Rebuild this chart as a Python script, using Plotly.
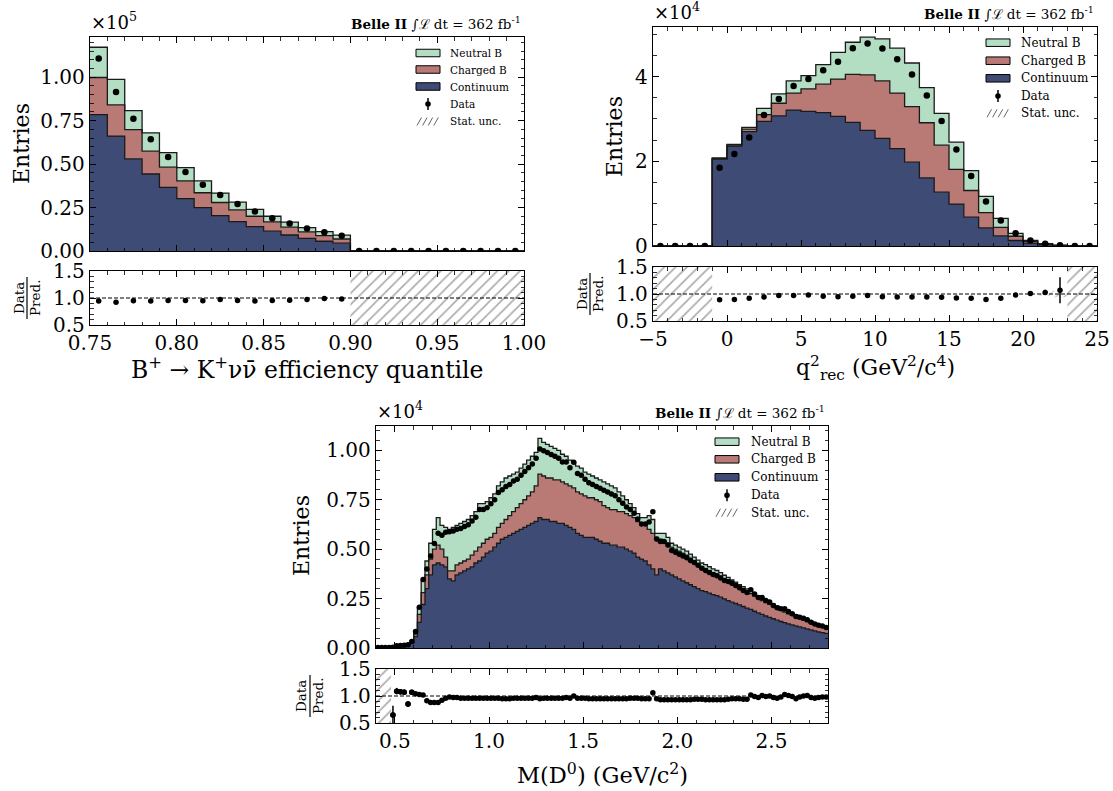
import numpy as np
import plotly.graph_objects as go

W, H = 1113, 791
FONT = "DejaVu Serif"
C_NEU = "#b3dec4"
C_CHG = "#b97a76"
C_CON = "#3e4b74"

# ---------------- Panel 1 : B+ -> K+ nu nubar efficiency quantile (x 1e5 entries)
p1_lo, p1_bw = 0.75, 0.01
p1_continuum = [0.784, 0.661, 0.530, 0.443, 0.366, 0.301, 0.250, 0.204, 0.169, 0.140,
                0.114, 0.092, 0.073, 0.056, 0.045, 0, 0, 0, 0, 0, 0, 0, 0, 0, 0]
p1_charged = [0.214, 0.179, 0.168, 0.131, 0.116, 0.102, 0.085, 0.075, 0.068, 0.060,
              0.054, 0.045, 0.037, 0.032, 0.024, 0, 0, 0, 0, 0, 0, 0, 0, 0, 0]
p1_neutral = [0.174, 0.147, 0.109, 0.106, 0.084, 0.077, 0.068, 0.054, 0.044, 0.039,
              0.032, 0.029, 0.025, 0.024, 0.022, 0, 0, 0, 0, 0, 0, 0, 0, 0, 0]
p1_data = [1.108, 0.915, 0.761, 0.643, 0.541, 0.455, 0.381, 0.322, 0.270, 0.227,
           0.189, 0.158, 0.129, 0.108, 0.088, 0, 0, 0, 0, 0, 0, 0, 0, 0, 0]
p1_ratio = [0.945, 0.92, 0.95, 0.945, 0.955, 0.955, 0.95, 0.97, 0.955, 0.945,
            0.955, 0.96, 0.97, 0.99, 0.98]
p1_ratio_err = [0.005, 0.006, 0.006, 0.007, 0.007, 0.008, 0.008, 0.009, 0.01, 0.01,
                0.011, 0.012, 0.013, 0.015, 0.016]

# ---------------- Panel 2 : q2_rec (x 1e4 entries)
p2_lo, p2_bw = -5.0, 1.0
p2_continuum = [0, 0, 0, 0, 2.05, 2.36, 2.70, 2.94, 3.07, 3.21, 3.18, 3.15, 3.06, 2.92, 2.73,
                2.54, 2.30, 1.98, 1.61, 1.27, 0.99, 0.68, 0.43, 0.24, 0.13, 0.07, 0.03, 0.01, 0, 0]
p2_charged = [0, 0, 0, 0, 0.01, 0.02, 0.06, 0.16, 0.30, 0.40, 0.53, 0.67, 0.88, 1.13, 1.31,
              1.36, 1.31, 1.31, 1.30, 1.11, 0.82, 0.63, 0.36, 0.20, 0.10, 0.04, 0.015, 0.005, 0, 0]
p2_neutral = [0, 0, 0, 0, 0.02, 0.02, 0.04, 0.15, 0.22, 0.29, 0.31, 0.46, 0.63, 0.76, 0.89,
              0.99, 1.06, 1.03, 0.83, 0.75, 0.64, 0.47, 0.38, 0.21, 0.07, 0.02, 0.01, 0.003, 0, 0]
p2_data = [0, 0, 0, 0, 1.85, 2.17, 2.56, 3.09, 3.47, 3.78, 3.94, 4.15, 4.35, 4.67, 4.78,
           4.66, 4.41, 4.05, 3.55, 2.95, 2.28, 1.65, 1.05, 0.60, 0.30, 0.13, 0.056, 0.019, 0, 0]
p2_ratio = [0.894, 0.90, 0.92, 0.944, 0.97, 0.97, 0.98, 0.96, 0.95, 0.96, 0.97, 0.95,
            0.944, 0.944, 0.944, 0.94, 0.925, 0.92, 0.90, 0.92, 0.98, 1.01, 1.03, 1.07]
p2_ratio_err = [0.01, 0.01, 0.01, 0.01, 0.01, 0.01, 0.01, 0.01, 0.01, 0.01, 0.01, 0.01,
                0.01, 0.01, 0.01, 0.01, 0.01, 0.01, 0.012, 0.015, 0.02, 0.03, 0.05, 0.24]
p2_unc_x = [21.5, 22.5]
p2_unc_rel = [0.03, 0.06]

# ---------------- Panel 3 : M(D0) (x 1e4 entries)
p3_lo, p3_bw = 0.40, 0.02
p3_continuum = [
    0, 0, 0, 0, 0.004, 0.008, 0.010, 0.012, 0.015, 0.024,
    0.058, 0.13, 0.22, 0.30, 0.37, 0.42, 0.43, 0.42, 0.41, 0.35,
    0.34, 0.37, 0.38, 0.39, 0.40, 0.41, 0.43, 0.44, 0.46, 0.48,
    0.49, 0.51, 0.53, 0.55, 0.56, 0.57, 0.58, 0.59, 0.60, 0.61,
    0.62, 0.63, 0.64, 0.66, 0.65, 0.65, 0.64, 0.64, 0.63, 0.63,
    0.62, 0.61, 0.60, 0.58, 0.57, 0.56, 0.56, 0.56, 0.55, 0.54,
    0.53, 0.53, 0.52, 0.52, 0.51, 0.51, 0.50, 0.49, 0.48, 0.46,
    0.45, 0.44, 0.42, 0.40, 0.37, 0.40, 0.39, 0.38, 0.37, 0.36,
    0.35, 0.34, 0.33, 0.32, 0.31, 0.30, 0.29, 0.285, 0.278, 0.27,
    0.265, 0.257, 0.248, 0.24, 0.232, 0.225, 0.218, 0.21, 0.202, 0.195,
    0.186, 0.178, 0.17, 0.162, 0.155, 0.148, 0.141, 0.134, 0.128, 0.122,
    0.117, 0.112, 0.107, 0.102, 0.097, 0.092, 0.087, 0.082, 0.078, 0.074]
p3_charged = [
    0, 0, 0, 0, 0.001, 0.002, 0.002, 0.002, 0.003, 0.004,
    0.012, 0.04, 0.06, 0.07, 0.08, 0.08, 0.09, 0.08, 0.05, 0.04,
    0.05, 0.05, 0.05, 0.05, 0.05, 0.06, 0.06, 0.07, 0.07, 0.07,
    0.07, 0.07, 0.08, 0.08, 0.09, 0.10, 0.11, 0.12, 0.13, 0.14,
    0.15, 0.16, 0.18, 0.22, 0.22, 0.21, 0.22, 0.21, 0.22, 0.21,
    0.21, 0.21, 0.21, 0.21, 0.21, 0.21, 0.20, 0.20, 0.20, 0.20,
    0.19, 0.18, 0.18, 0.18, 0.18, 0.18, 0.18, 0.18, 0.18, 0.18,
    0.18, 0.18, 0.18, 0.18, 0.19, 0.15, 0.15, 0.15, 0.14, 0.14,
    0.14, 0.14, 0.14, 0.135, 0.13, 0.125, 0.12, 0.117, 0.113, 0.11,
    0.109, 0.106, 0.103, 0.10, 0.096, 0.092, 0.088, 0.085, 0.083, 0.08,
    0.077, 0.073, 0.07, 0.068, 0.066, 0.063, 0.06, 0.057, 0.054, 0.051,
    0.048, 0.045, 0.042, 0.039, 0.036, 0.034, 0.031, 0.029, 0.027, 0.025]
p3_neutral = [
    0, 0, 0, 0, 0.001, 0.001, 0.001, 0.002, 0.002, 0.003,
    0.010, 0.03, 0.06, 0.07, 0.08, 0.10, 0.14, 0.12, 0.15, 0.21,
    0.22, 0.20, 0.20, 0.20, 0.20, 0.20, 0.20, 0.22, 0.20, 0.19,
    0.20, 0.20, 0.21, 0.21, 0.21, 0.20, 0.19, 0.18, 0.18, 0.18,
    0.18, 0.18, 0.17, 0.18, 0.17, 0.17, 0.16, 0.16, 0.15, 0.14,
    0.14, 0.13, 0.13, 0.13, 0.13, 0.12, 0.12, 0.11, 0.11, 0.11,
    0.12, 0.12, 0.12, 0.11, 0.10, 0.08, 0.07, 0.06, 0.05, 0.04,
    0.03, 0.04, 0.07, 0.07, 0.02, 0.03, 0.04, 0.03, 0.02, 0.02,
    0.02, 0.02, 0.02, 0.02, 0.02, 0.02, 0.02, 0.02, 0.02, 0.02,
    0.018, 0.018, 0.017, 0.017, 0.016, 0.016, 0.015, 0.015, 0.014, 0.014,
    0.013, 0.013, 0.012, 0.012, 0.012, 0.011, 0.011, 0.011, 0.010, 0.010,
    0.010, 0.010, 0.009, 0.009, 0.009, 0.008, 0.008, 0.008, 0.008, 0.007]
p3_data = [
    0.002, 0.002, 0.003, 0.003, 0.004, 0.012, 0.013, 0.014, 0.017, 0.033,
    0.083, 0.206, 0.347, 0.40, 0.466, 0.528, 0.58, 0.57, 0.585, 0.588,
    0.592, 0.601, 0.605, 0.614, 0.624, 0.643, 0.662, 0.70, 0.70, 0.71,
    0.73, 0.75, 0.787, 0.80, 0.817, 0.827, 0.845, 0.854, 0.874, 0.893,
    0.912, 0.931, 0.96, 1.007, 0.998, 0.989, 0.979, 0.97, 0.96, 0.941,
    0.941, 0.912, 0.94, 0.883, 0.874, 0.854, 0.836, 0.827, 0.817, 0.808,
    0.798, 0.789, 0.779, 0.77, 0.75, 0.732, 0.713, 0.70, 0.682, 0.653,
    0.627, 0.627, 0.637, 0.689, 0.551, 0.539, 0.539, 0.521, 0.493, 0.484,
    0.474, 0.465, 0.456, 0.442, 0.432, 0.418, 0.404, 0.392, 0.382, 0.372,
    0.365, 0.354, 0.342, 0.336, 0.327, 0.316, 0.305, 0.291, 0.281, 0.295,
    0.273, 0.256, 0.255, 0.240, 0.233, 0.215, 0.204, 0.198, 0.198, 0.185,
    0.173, 0.159, 0.155, 0.150, 0.143, 0.130, 0.121, 0.115, 0.111, 0.104]
p3_ratio = [
    0.65, 1.09, 1.08, 1.07, 0.85, 1.07,
    1.04, 1.03, 1.02, 0.91, 0.88, 0.88, 0.88, 0.92, 0.96, 0.98,
    0.97, 0.97, 0.96, 0.96, 0.96, 0.96, 0.96, 0.96, 0.96, 0.96,
    0.96, 0.96, 0.96, 0.95, 0.95, 0.95, 0.96, 0.96, 0.96, 0.96,
    0.96, 0.96, 0.97, 0.95, 0.96, 0.96, 0.96, 0.96, 0.96, 0.96,
    0.97, 0.96, 1.00, 0.96, 0.96, 0.96, 0.95, 0.95, 0.95, 0.95,
    0.95, 0.95, 0.95, 0.95, 0.95, 0.95, 0.95, 0.96, 0.96, 0.96,
    0.95, 0.95, 0.95, 1.06, 0.95, 0.93, 0.93, 0.93, 0.93, 0.93,
    0.93, 0.93, 0.93, 0.93, 0.94, 0.94, 0.94, 0.93, 0.93, 0.93,
    0.93, 0.93, 0.93, 0.94, 0.95, 0.95, 0.95, 0.94, 0.94, 1.02,
    0.99, 0.97, 1.01, 0.99, 1.00, 0.97, 0.96, 0.98, 1.03, 1.01,
    0.99, 0.95, 0.98, 1.00, 1.01, 0.97, 0.96, 0.97, 0.98, 0.98]
p3_big_err_x = [0.49, 0.51, 0.53, 0.55, 0.57, 0.59]
p3_big_err = [0.17, 0.06, 0.05, 0.05, 0.05, 0.04]

# ---------------- layout geometry (pixels)
def X(p):
    return p / W


def Y(p):
    return 1 - p / H


panels = [
    dict(lo=p1_lo, bw=p1_bw, con=p1_continuum, chg=p1_charged, neu=p1_neutral,
         data=p1_data, ratio=p1_ratio, rerr=p1_ratio_err, msize=6.5,
         xpx=(90, 524), mainpx=(37, 251), ratpx=(271, 325),
         xr=[0.75, 1.0], xdt=0.05, xminor=0.01, xfmt=".2f",
         yr=[0, 1.231], ydt=0.25, yminor=0.05, yfmt=".2f"),
    dict(lo=p2_lo, bw=p2_bw, con=p2_continuum, chg=p2_charged, neu=p2_neutral,
         data=p2_data, ratio=p2_ratio, rerr=p2_ratio_err, msize=6.5,
         xpx=(653, 1097), mainpx=(27, 246), ratpx=(267, 321),
         xr=[-5, 25], xdt=5, xminor=1, xfmt="d",
         yr=[0, 5.17], ydt=2, yminor=0.5, yfmt="d"),
    dict(lo=p3_lo, bw=p3_bw, con=p3_continuum, chg=p3_charged, neu=p3_neutral,
         data=p3_data, ratio=p3_ratio, rerr=None, msize=5.5,
         xpx=(376, 828), mainpx=(426, 648), ratpx=(669, 723),
         xr=[0.4, 2.8], xdt=0.5, xminor=0.1, xfmt=".1f",
         yr=[0, 1.123], ydt=0.25, yminor=0.05, yfmt=".2f"),
]

fig = go.Figure()
layout_axes = {}
shapes = []
annotations = []

tickfont = dict(family=FONT, size=20, color="black")


def axis_dict(domain, rng, dt, minor, fmt, anchor, showlabels, tick0):
    return dict(domain=domain, range=rng, anchor=anchor, showline=True, linecolor="black",
                linewidth=1.2, mirror="allticks", ticks="inside", ticklen=6, tickwidth=1,
                tickcolor="black", tick0=tick0, dtick=dt, tickformat=fmt,
                minor=dict(ticks="inside", ticklen=3.5, tickwidth=0.8, tickcolor="black",
                           dtick=minor, tick0=tick0),
                showgrid=False, zeroline=False, showticklabels=showlabels,
                tickfont=tickfont, fixedrange=True, automargin=False)


def runs(mask, edges):
    out = []
    i = 0
    n = len(mask)
    while i < n:
        if mask[i]:
            j = i
            while j + 1 < n and mask[j + 1]:
                j += 1
            out.append((edges[i], edges[j + 1]))
            i = j + 1
        else:
            i += 1
    return out


for k, p in enumerate(panels):
    xm = "x" if k == 0 else f"x{2 * k + 1}"
    ym = "y" if k == 0 else f"y{2 * k + 1}"
    xr_ = f"x{2 * k + 2}"
    yr_ = f"y{2 * k + 2}"
    xdom = [X(p["xpx"][0]), X(p["xpx"][1])]
    mdom = [Y(p["mainpx"][1]), Y(p["mainpx"][0])]
    rdom = [Y(p["ratpx"][1]), Y(p["ratpx"][0])]
    layout_axes["xaxis" if k == 0 else f"xaxis{2 * k + 1}"] = axis_dict(
        xdom, p["xr"], p["xdt"], p["xminor"], p["xfmt"], ym, False, 0)
    layout_axes["yaxis" if k == 0 else f"yaxis{2 * k + 1}"] = axis_dict(
        mdom, p["yr"], p["ydt"], p["yminor"], p["yfmt"], xm, True, 0)
    layout_axes[f"xaxis{2 * k + 2}"] = axis_dict(
        xdom, p["xr"], p["xdt"], p["xminor"], p["xfmt"], yr_, True, 0)
    layout_axes[f"yaxis{2 * k + 2}"] = axis_dict(
        rdom, [0.5, 1.5], 0.5, 0.1, ".1f", xr_, True, 0.5)

    nb = len(p["con"])
    edges = [p["lo"] + p["bw"] * i for i in range(nb + 1)]
    centers = np.array([p["lo"] + p["bw"] * (i + 0.5) for i in range(nb)])
    con = np.array(p["con"], dtype=float)
    lvl_chg = con + np.array(p["chg"], dtype=float)
    lvl_tot = lvl_chg + np.array(p["neu"], dtype=float)

    for lvl, col, fill in [(con, C_CON, "tozeroy"), (lvl_chg, C_CHG, "tonexty"),
                           (lvl_tot, C_NEU, "tonexty")]:
        fig.add_trace(go.Scatter(x=edges, y=list(lvl) + [lvl[-1]], mode="lines",
                                 line=dict(shape="hv", color="#1a1a1a", width=1.3),
                                 fill=fill, fillcolor=col, xaxis=xm, yaxis=ym,
                                 hoverinfo="skip", showlegend=False))
    fig.add_trace(go.Scatter(x=centers, y=p["data"], mode="markers",
                             marker=dict(color="black", size=p["msize"]), xaxis=xm, yaxis=ym,
                             hoverinfo="skip", showlegend=False))

    # ratio: hatched where there is no prediction
    zero = lvl_tot <= 0
    for a, b in runs(list(zero), edges):
        fig.add_trace(go.Bar(x=[(a + b) / 2], y=[1.0], base=[0.5], width=[b - a],
                             marker=dict(color="rgba(0,0,0,0)", line=dict(width=0),
                                         pattern=dict(shape="/", fgcolor="#555555",
                                                      size=8, solidity=0.2,
                                                      fillmode="overlay")),
                             xaxis=xr_, yaxis=yr_, hoverinfo="skip", showlegend=False))
    if k == 1:
        for cx, rel in zip(p2_unc_x, p2_unc_rel):
            fig.add_trace(go.Bar(x=[cx], y=[2 * rel], base=[1 - rel], width=[p["bw"]],
                                 marker=dict(color="rgba(0,0,0,0)", line=dict(width=0),
                                             pattern=dict(shape="/", fgcolor="#777777",
                                                          size=6, solidity=0.2,
                                                          fillmode="overlay")),
                                 xaxis=xr_, yaxis=yr_, hoverinfo="skip", showlegend=False))
    fig.add_trace(go.Scatter(x=list(p["xr"]), y=[1, 1], mode="lines",
                             line=dict(color="black", width=1, dash="4px,2px"),
                             xaxis=xr_, yaxis=yr_, hoverinfo="skip", showlegend=False))
    rx = centers[~zero]
    ey = dict(type="data", array=p["rerr"], color="black", thickness=1.5, width=0,
              visible=True) if p["rerr"] is not None else None
    fig.add_trace(go.Scatter(x=rx, y=p["ratio"], mode="markers",
                             marker=dict(color="black", size=5.5),
                             error_y=ey, xaxis=xr_, yaxis=yr_,
                             hoverinfo="skip", showlegend=False))
    if k == 2:
        big_y = [p["ratio"][list(np.round(rx, 3)).index(round(v, 3))] for v in p3_big_err_x]
        fig.add_trace(go.Scatter(x=p3_big_err_x, y=big_y, mode="markers",
                                 marker=dict(color="black", size=5.5),
                                 error_y=dict(type="data", array=p3_big_err, color="black",
                                              thickness=1.5, width=0),
                                 xaxis=xr_, yaxis=yr_, hoverinfo="skip", showlegend=False))


# ---------------- text decorations
def ann(text, x, y, size, xanchor="center", yanchor="middle", angle=0, color="black"):
    annotations.append(dict(text=text, x=X(x), y=Y(y), xref="paper", yref="paper",
                            xanchor=xanchor, yanchor=yanchor, textangle=angle,
                            showarrow=False, font=dict(family=FONT, size=size, color=color)))


belle = "<b>Belle II</b> ∫ℒ dt = 362 fb<sup>-1</sup>"
ann(belle, 523, 34, 13.5, xanchor="right", yanchor="bottom")
ann(belle, 1096, 24, 13.5, xanchor="right", yanchor="bottom")
ann(belle, 827, 423, 13.5, xanchor="right", yanchor="bottom")

ann("×10<sup>5</sup>", 89, 35, 18, xanchor="left", yanchor="bottom")
ann("×10<sup>4</sup>", 652, 25, 18, xanchor="left", yanchor="bottom")
ann("×10<sup>4</sup>", 375, 424, 18, xanchor="left", yanchor="bottom")

ann("Entries", 21, 144, 22, angle=-90)
ann("Entries", 614, 137, 22, angle=-90)
ann("Entries", 301, 536, 22, angle=-90)

for dx, bx, px_, cy in [(19, 27, 35, 298), (582, 590, 598, 294), (301, 310, 318, 696)]:
    ann("Data", dx, cy, 13.5, angle=-90)
    ann("Pred.", px_, cy, 13.5, angle=-90)
    shapes.append(dict(type="line", xref="paper", yref="paper", x0=X(bx), x1=X(bx),
                       y0=Y(cy - 21), y1=Y(cy + 21), line=dict(color="black", width=1.2)))

ann("B<sup>+</sup> → K<sup>+</sup>νν\u0304 efficiency quantile", 307, 368, 23.5)
ann("q<sup>2</sup><sub>rec</sub> (GeV<sup>2</sup>/c<sup>4</sup>)", 875, 368, 22)
ann("M(D<sup>0</sup>) (GeV/c<sup>2</sup>)", 602, 773, 22.5)


# ---------------- legends
def legend(bx, tx, rows, fs):
    labels = ["Neutral B", "Charged B", "Continuum", "Data", "Stat. unc."]
    fills = [C_NEU, C_CHG, C_CON]
    bw, bh = 24, 7.5
    for i in range(3):
        y = rows[i]
        shapes.append(dict(type="rect", xref="paper", yref="paper", x0=X(bx), x1=X(bx + bw),
                           y0=Y(y + bh / 2), y1=Y(y - bh / 2), fillcolor=fills[i],
                           line=dict(color="black", width=1)))
    cx = bx + bw / 2
    y = rows[3]
    shapes.append(dict(type="line", xref="paper", yref="paper", x0=X(cx), x1=X(cx),
                       y0=Y(y + 6), y1=Y(y - 6), line=dict(color="black", width=1.5)))
    shapes.append(dict(type="circle", xref="paper", yref="paper", x0=X(cx - 2.8),
                       x1=X(cx + 2.8), y0=Y(y + 2.8), y1=Y(y - 2.8), fillcolor="black",
                       line=dict(color="black", width=0)))
    y = rows[4]
    for j in range(4):
        x0 = bx + 1 + j * 5.6
        shapes.append(dict(type="line", xref="paper", yref="paper", x0=X(x0), x1=X(x0 + 4.5),
                           y0=Y(y + 4), y1=Y(y - 4), line=dict(color="#666666", width=1)))
    for i, lab in enumerate(labels):
        ann(lab, tx, rows[i], fs, xanchor="left")


legend(416, 448, [53, 69.5, 86.5, 104, 121.5], 10.5)
legend(986, 1019, [42.7, 60.7, 78.3, 96, 113.3], 12)
legend(715, 749, [441.7, 459.3, 477.3, 495.3, 512.7], 12)

fig.update_layout(width=W, height=H, autosize=False,
                  margin=dict(l=0, r=0, t=0, b=0, pad=0, autoexpand=False),
                  paper_bgcolor="white", plot_bgcolor="white", barmode="overlay",
                  showlegend=False, shapes=shapes, annotations=annotations,
                  font=dict(family=FONT, color="black"), **layout_axes)

fig.write_html("out.html", config={"displayModeBar": False, "staticPlot": True},
               post_script="document.body.style.margin='0px';"
                           "document.body.style.overflow='hidden';")
